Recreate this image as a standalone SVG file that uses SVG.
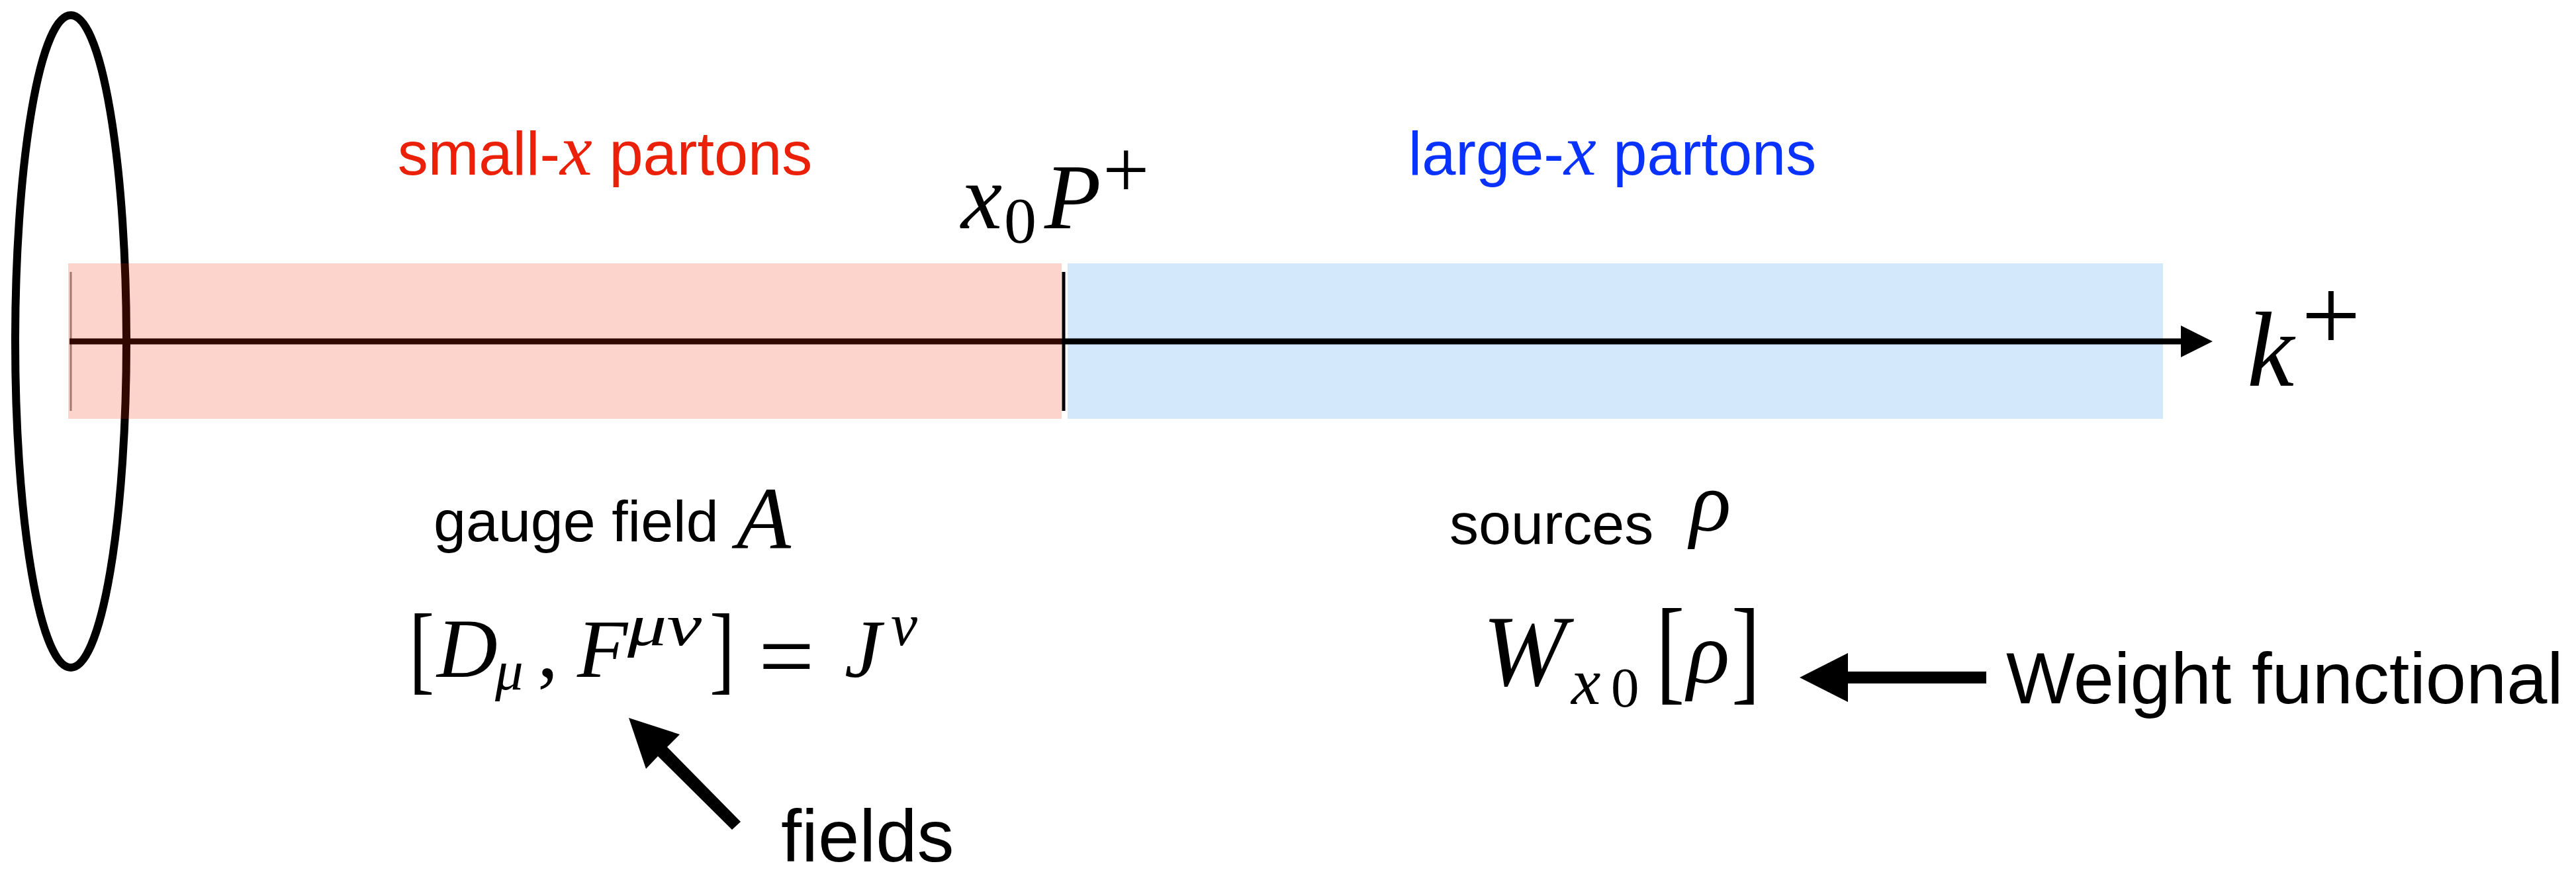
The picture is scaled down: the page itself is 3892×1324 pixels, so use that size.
<svg xmlns="http://www.w3.org/2000/svg" width="3892" height="1324" viewBox="0 0 3892 1324">
<style>
.lbl{font-family:"Liberation Sans",Arial,Helvetica,sans-serif}
.mi{font-family:"Liberation Serif","Times New Roman",serif;font-style:italic}
.mr{font-family:"Liberation Serif","Times New Roman",serif;font-style:normal}
.blk{fill:#000}
</style>
<rect width="3892" height="1324" fill="#fff"/>
<g id="large-x-region">
<rect x="1613" y="398" width="1655" height="235" fill="#D3E8FB"/>
</g>
<g id="nucleus">
<ellipse cx="107" cy="516" rx="84" ry="493" fill="none" stroke="#000" stroke-width="12"/>
</g>
<g id="connectors">
<line id="axis" x1="105" y1="516" x2="3298" y2="516" stroke="#000" stroke-width="9"/>
<polygon id="axis-head" class="blk" points="3295,492 3343,516 3295,540"/>
<line x1="107" y1="411" x2="107" y2="621" stroke="#000" stroke-opacity="0.45" stroke-width="3"/>
<polygon id="fields-arrow" class="blk" points="950,1085 1027,1110 1008,1129 1119,1242 1106,1254 994,1143 976,1162"/>
<polygon id="weight-arrow" class="blk" points="2719,1024 2792,987 2792,1015 3001,1015 3001,1033 2792,1033 2792,1061"/>
</g>
<g id="small-x-region">
<rect x="103" y="398" width="1501" height="235" fill="#EE2800" fill-opacity="0.2"/>
</g>
<g id="x0-cut">
<line x1="1607" y1="411" x2="1607" y2="621" stroke="#000" stroke-width="5"/>
<text class="mi" x="1452" y="345" font-size="140">x</text>
<text class="mr" x="1517" y="366" font-size="98">0</text>
<text class="mi" x="1578" y="345" font-size="140">P</text>
<text class="mr" x="1666" y="298" font-size="125">+</text>
</g>
<g id="small-x-label">
<text class="lbl" x="914" y="264" text-anchor="middle" font-size="92" fill="#EB2008">small-<tspan class="mi" font-size="110">x</tspan> partons</text>
</g>
<g id="large-x-label">
<text class="lbl" x="2436" y="264" text-anchor="middle" font-size="92" fill="#0A32FF">large-<tspan class="mi" font-size="110">x</tspan> partons</text>
</g>
<g id="k-plus">
<text class="mi" x="3395" y="583" font-size="160">k</text>
<text class="mr" x="3477" y="530" font-size="159">+</text>
</g>
<g id="gauge-field">
<text class="lbl" x="655" y="818" font-size="88">gauge field</text>
<text class="mi" x="1113" y="828" font-size="134">A</text>
</g>
<g id="sources">
<text class="lbl" x="2190" y="822" font-size="88">sources</text>
<text class="mi" x="2553" y="802" font-size="130">ρ</text>
</g>
<g id="yang-mills">
<text class="mr" font-size="115" transform="translate(618,1030) scale(1,1.29)">[</text>
<text class="mi" x="660" y="1023" font-size="127">D</text>
<text class="mi" x="748" y="1042" font-size="85">μ</text>
<text class="mr" x="812" y="1023" font-size="125">,</text>
<text class="mi" x="872" y="1023" font-size="125">F</text>
<text class="mi" x="948" y="975" font-size="88" textLength="112" lengthAdjust="spacingAndGlyphs">μν</text>
<text class="mr" font-size="115" transform="translate(1072,1030) scale(1,1.29)">]</text>
<text class="mr" x="1146" y="1042" font-size="150">=</text>
<text class="mi" x="1276" y="1023" font-size="125">J</text>
<text class="mi" x="1346" y="975" font-size="90">ν</text>
</g>
<g id="fields-label">
<text class="lbl" x="1180" y="1302" font-size="112">fields</text>
</g>
<g id="weight-functional">
<text class="mi" x="2240" y="1036" font-size="152">W</text>
<text class="mi" x="2374" y="1064" font-size="100">x</text>
<text class="mr" x="2434" y="1068" font-size="85">0</text>
<text class="mr" font-size="130" transform="translate(2502,1041) scale(1,1.35)">[</text>
<text class="mi" x="2549" y="1032" font-size="134">ρ</text>
<text class="mr" font-size="130" transform="translate(2616,1041) scale(1,1.35)">]</text>
</g>
<g id="weight-label">
<text class="lbl" x="3031" y="1063" font-size="110">Weight functional</text>
</g>
</svg>
